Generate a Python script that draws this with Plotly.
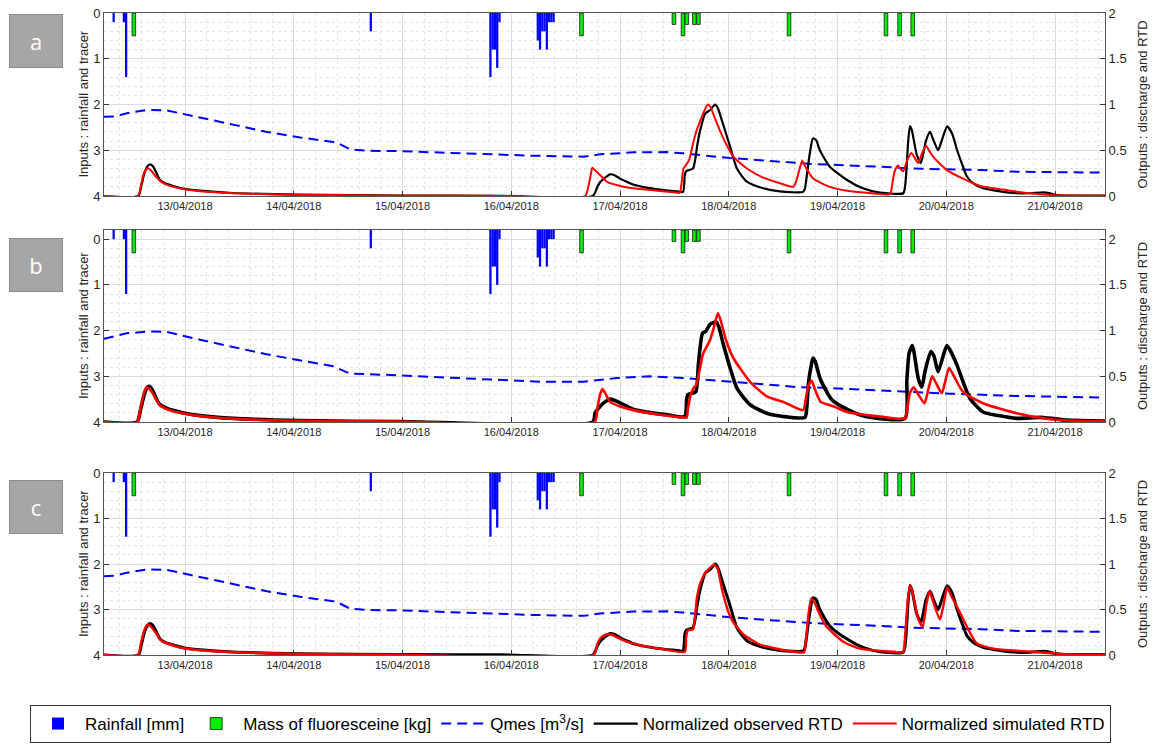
import pandas as pd
import plotly.graph_objects as go

# ---------------- DATA (time in hours from 13/04/2018 00:00) ----------------
T0 = pd.Timestamp("2018-04-13 00:00")

rain_h = [-15.75, -13.5, -13.0, 41.0, 67.4, 67.9, 68.4, 68.9, 69.4,
          77.85, 78.35, 78.85, 79.35, 79.85, 80.35, 80.85, 81.35]
rain_mm = [0.2, 0.2, 1.4, 0.4, 1.4, 0.8, 0.8, 1.2, 0.2,
           0.6, 0.8, 0.4, 0.4, 0.8, 0.2, 0.2, 0.2]

tracer_h = [-11.3, 87.5, 107.9, 109.9, 110.75, 112.4, 113.3, 133.3, 154.7, 157.7, 160.6]
tracer_kg = [0.5, 0.5, 0.25, 0.5, 0.25, 0.25, 0.25, 0.5, 0.5, 0.5, 0.5]

# discharge (panels a and c)
q_h = [-17.9, -15.5, -12.8, -10.0, -8.4, -4.0, -0.4, 3.3, 10.6, 18.1, 25.4, 32.7, 34.0,
       36.4, 40.0, 47.5, 62.3, 76.8, 87.9, 91.6, 98.9, 106.4, 109.9, 120.3, 131.3,
       138.6, 153.4, 160.7, 175.5, 183.7, 203.0]
q_ac = [0.865, 0.87, 0.905, 0.93, 0.94, 0.935, 0.895, 0.855, 0.78, 0.70, 0.64, 0.59, 0.57,
        0.51, 0.495, 0.49, 0.465, 0.44, 0.43, 0.455, 0.477, 0.48, 0.466, 0.415, 0.375,
        0.35, 0.32, 0.30, 0.284, 0.265, 0.255]
# discharge (panel b)
qb_h = [-17.9, -12.9, -7.7, -4.0, 3.3, 18.0, 32.7, 36.4, 47.4, 62.2, 78.3, 87.8, 95.3,
        102.6, 109.9, 120.9, 126.2, 135.7, 139.4, 154.1, 168.8, 183.5, 202.6]
q_b = [0.91, 0.97, 0.99, 0.985, 0.90, 0.74, 0.61, 0.53, 0.51, 0.48, 0.44, 0.44, 0.48,
       0.50, 0.48, 0.44, 0.42, 0.38, 0.377, 0.34, 0.31, 0.285, 0.267]

# normalized observed RTD (panels a and c)
obs_h = [-17.9, -10.3, -9.6, -8.9, -8.2, -7.7, -7.0, -6.4, -5.5, -4.4, -0.4, 3.3, 10.6, 25.4,
         47.5, 70.0, 90.0,
         91.0, 91.6, 92.7, 93.8, 94.9, 96.0, 97.5, 98.9, 101.5, 104.8, 108.6, 109.9,
         110.3, 110.6, 111.0, 112.1, 112.6, 113.0, 113.7, 114.8, 115.9, 117.0, 117.6, 118.7,
         120.3, 121.8, 124.0, 127.6, 131.3, 136.4,
         136.8, 137.3, 137.9, 138.6, 139.3, 140.1, 142.3, 146.1, 149.6, 153.4, 158.5,
         158.9, 159.3, 159.6, 160.0, 160.4, 161.5, 162.4, 163.5, 164.4, 165.1, 166.2, 167.1,
         168.2, 169.3, 170.4, 171.7, 172.6, 173.9, 176.1, 179.9, 183.6, 186.5, 189.4, 190.9,
         192.4, 203.0]
obs_ac = [0, 0, 0.12, 0.26, 0.33, 0.345, 0.32, 0.26, 0.175, 0.138, 0.08, 0.058, 0.033, 0.015,
          0.005, 0.002, 0.0,
          0.10, 0.15, 0.20, 0.237, 0.225, 0.19, 0.155, 0.125, 0.095, 0.07, 0.05, 0.045,
          0.23, 0.27, 0.28, 0.30, 0.40, 0.54, 0.72, 0.90, 0.94, 1.0, 0.96, 0.79,
          0.54, 0.30, 0.156, 0.084, 0.05, 0.045,
          0.08, 0.25, 0.47, 0.63, 0.61, 0.50, 0.32, 0.175, 0.084, 0.036, 0.03,
          0.10, 0.35, 0.60, 0.765, 0.72, 0.45, 0.36, 0.60, 0.70, 0.62, 0.50, 0.62,
          0.76, 0.68, 0.50, 0.32, 0.21, 0.14, 0.084, 0.05, 0.03, 0.03, 0.04, 0.03,
          0.01, 0.005]

# normalized simulated RTD, panel a
sima_h = [-17.9, -10.4, -9.8, -9.2, -8.6, -8.2, -7.5, -6.8, -6.0, -5.5, -4.4, -0.4, 3.3,
          10.6, 25.4, 47.5, 70.0, 88.3,
          89.0, 89.5, 89.9, 90.7, 91.6, 93.1, 96.0, 98.9, 104.8, 108.6, 109.2,
          109.6, 110.0, 110.6, 111.3, 112.0, 112.8, 113.7, 114.6, 115.4, 116.0, 116.7, 118.0,
          119.5, 121.0, 124.0, 127.6, 131.3, 134.2,
          134.8, 135.5, 136.2, 136.8, 137.5, 138.6, 140.1, 142.3, 146.1, 150.5, 155.6,
          156.0, 156.5, 157.1, 157.4, 158.0, 158.5, 159.3, 160.3, 161.0, 161.8, 162.6, 163.5,
          164.3, 165.1, 168.2, 171.7, 175.5, 179.9, 183.6, 190.9, 203.0]
sim_a = [0, 0, 0.10, 0.23, 0.29, 0.30, 0.28, 0.235, 0.19, 0.165, 0.13, 0.075, 0.052,
         0.03, 0.012, 0.004, 0.001, 0.0,
         0.10, 0.22, 0.31, 0.27, 0.23, 0.156, 0.11, 0.084, 0.055, 0.036, 0.035,
         0.15, 0.30, 0.34, 0.40, 0.55, 0.70, 0.82, 0.93, 1.0, 0.97, 0.88, 0.72,
         0.56, 0.43, 0.30, 0.20, 0.14, 0.10,
         0.15, 0.27, 0.385, 0.33, 0.27, 0.19, 0.15, 0.10, 0.058, 0.036, 0.022,
         0.10, 0.25, 0.32, 0.33, 0.29, 0.27, 0.38, 0.47, 0.42, 0.36, 0.46, 0.55,
         0.49, 0.43, 0.28, 0.19, 0.11, 0.075, 0.047, 0.012, 0.004]

# normalized observed RTD, panel b
obsb_h = [-17.9, -10.6, -9.8, -9.0, -8.3, -7.9, -7.2, -6.4, -5.5, -4.0, -2.0, 0.0, 3.3,
          10.6, 25.4, 47.5, 90.0,
          90.5, 91.6, 92.7, 93.8, 94.9, 96.0, 98.9, 103.0, 106.4, 110.3,
          110.7, 111.0, 112.7, 113.3, 114.2, 114.9, 115.9, 117.2, 117.8, 118.8, 120.3, 121.8,
          124.7, 128.4, 132.0, 136.8,
          137.2, 137.6, 138.2, 138.6, 139.1, 140.2, 142.8, 146.5, 150.2, 158.9,
          159.3, 159.8, 160.5, 160.9, 161.8, 162.6, 163.3, 164.6, 165.3, 166.2, 167.3, 168.1,
          168.8, 170.3, 173.2, 176.1, 179.5, 183.5, 189.4, 194.6, 203.0]
obs_b = [0, 0, 0.14, 0.30, 0.38, 0.39, 0.35, 0.26, 0.19, 0.15, 0.12, 0.095, 0.07,
         0.04, 0.015, 0.005, 0.0,
         0.10, 0.17, 0.22, 0.25, 0.235, 0.21, 0.14, 0.10, 0.08, 0.06,
         0.25, 0.30, 0.33, 0.63, 0.97, 0.99, 1.07, 1.095, 1.04, 0.85, 0.59, 0.37,
         0.19, 0.095, 0.06, 0.05,
         0.15, 0.43, 0.62, 0.70, 0.66, 0.47, 0.24, 0.13, 0.06, 0.04,
         0.45, 0.75, 0.835, 0.76, 0.48, 0.38, 0.55, 0.77, 0.72, 0.55, 0.72, 0.835,
         0.79, 0.63, 0.26, 0.11, 0.07, 0.04, 0.05, 0.02, 0.01]

# normalized simulated RTD, panel b
simb_h = [-17.9, -10.6, -9.8, -9.0, -8.5, -8.0, -7.2, -6.4, -5.5, -4.0, -2.0, 0.0, 3.3,
          10.6, 25.4, 47.5, 90.4,
          91.0, 91.6, 92.1, 92.8, 93.8, 96.0, 98.9, 104.8, 109.9, 110.7,
          111.0, 111.6, 112.2, 112.8, 113.5, 114.3, 115.9, 116.8, 117.6, 118.1, 119.5, 121.0,
          124.7, 128.4, 132.0, 136.4,
          137.0, 137.6, 138.3, 139.0, 140.3, 143.2, 146.1, 153.5, 158.9,
          159.4, 160.0, 160.8, 161.6, 163.2, 164.0, 164.9, 165.7, 167.0, 167.8, 168.6, 169.5,
          171.7, 176.1, 183.5, 190.9, 198.2, 203.0]
sim_b = [0, 0, 0.16, 0.33, 0.38, 0.37, 0.32, 0.25, 0.18, 0.14, 0.11, 0.09, 0.065,
         0.035, 0.012, 0.004, 0.0,
         0.15, 0.30, 0.36, 0.31, 0.22, 0.17, 0.13, 0.08, 0.05, 0.05,
         0.15, 0.30, 0.37, 0.40, 0.55, 0.74, 0.90, 1.05, 1.19, 1.13, 0.88, 0.70,
         0.44, 0.28, 0.22, 0.13,
         0.25, 0.40, 0.45, 0.36, 0.22, 0.17, 0.11, 0.06, 0.04,
         0.15, 0.32, 0.38, 0.32, 0.205, 0.35, 0.50, 0.43, 0.315, 0.45, 0.59, 0.52,
         0.33, 0.205, 0.095, 0.03, 0.01, 0.008]

# normalized simulated RTD, panel c
simc_h = [-17.9, -10.4, -9.7, -9.0, -8.4, -8.0, -7.3, -6.4, -5.5, -4.4, -0.4, 3.3, 10.6,
          25.4, 47.5, 90.2,
          91.0, 91.8, 93.0, 94.0, 95.5, 97.5, 101.5, 104.8, 110.3,
          110.6, 111.0, 112.1, 112.6, 113.0, 113.8, 114.8, 115.9, 116.8, 117.5, 118.6, 120.0,
          121.0, 123.4, 127.1, 134.5, 136.6,
          137.0, 137.6, 138.2, 138.9, 140.3, 141.6, 145.3, 149.0, 156.4, 158.5,
          158.9, 159.5, 160.0, 160.5, 161.8, 162.8, 163.6, 164.3, 165.0, 166.6, 167.4, 168.2,
          169.0, 171.1, 174.7, 178.4, 185.8, 194.0, 203.0]
sim_c = [0, 0, 0.14, 0.27, 0.33, 0.33, 0.30, 0.24, 0.17, 0.135, 0.075, 0.052, 0.03,
         0.012, 0.004, 0.0,
         0.12, 0.19, 0.225, 0.225, 0.19, 0.146, 0.095, 0.07, 0.035,
         0.20, 0.27, 0.28, 0.45, 0.64, 0.80, 0.90, 0.96, 0.99, 0.95, 0.70, 0.46,
         0.36, 0.22, 0.11, 0.035, 0.03,
         0.15, 0.45, 0.62, 0.58, 0.42, 0.31, 0.146, 0.07, 0.035, 0.03,
         0.20, 0.60, 0.765, 0.70, 0.40, 0.31, 0.55, 0.70, 0.60, 0.39, 0.55, 0.74,
         0.66, 0.46, 0.13, 0.07, 0.04, 0.01, 0.004]

panel_letters = ["a", "b", "c"]
left_title = "Inputs : rainfall and tracer"
right_title = "Outputs : discharge and RTD"
date_ticks_fmt = "%d/%m/%Y"

# ---------------- FIGURE ----------------
def tt(hours):
    return [T0 + pd.Timedelta(hours=h) for h in hours]

W, H = 1152, 747
ML, MR, MT, MB = 104, 47, 13, 92
plot_w = W - ML - MR
plot_h = H - MT - MB

def py(px):  # paper y from pixel row
    return (H - MB - px) / plot_h

def px_(x):  # paper x from pixel column
    return (x - ML) / plot_w

panel_px = [(13, 196), (230, 422), (473, 655)]
domains = [[py(b), py(t)] for t, b in panel_px]
left_ranges = [[4, 0], [4, -0.2], [4, 0]]
right_ranges = [[0, 2], [0, 2.1], [0, 2]]
bar_base = [0, -0.2, 0]

panels = [
    dict(qh=q_h, q=q_ac, oh=obs_h, o=obs_ac, sh=sima_h, s=sim_a, ow=2.2, sw=2.0),
    dict(qh=qb_h, q=q_b, oh=obsb_h, o=obs_b, sh=simb_h, s=sim_b, ow=3.6, sw=2.6),
    dict(qh=q_h, q=q_ac, oh=obs_h, o=obs_ac, sh=simc_h, s=sim_c, ow=3.0, sw=2.4),
]

fig = go.Figure()
FONT = "Liberation Sans, Arial, sans-serif"
TXT = "#262626"

for i, p in enumerate(panels):
    xa = "x" if i == 0 else f"x{i+1}"
    yl = "y" if i == 0 else f"y{2*i+1}"
    yr = f"y{2*i+2}"
    show = i == 0
    fig.add_trace(go.Bar(x=tt(rain_h), y=rain_mm, base=bar_base[i], width=1800000,
                         marker=dict(color="#0000ff", line=dict(width=0)),
                         name="Rainfall [mm]", showlegend=show, legendgroup="r",
                         xaxis=xa, yaxis=yl))
    fig.add_trace(go.Bar(x=tt(tracer_h), y=tracer_kg, base=bar_base[i], width=2880000,
                         marker=dict(color="#00ee00", line=dict(width=0.8, color="#1a1a1a")),
                         name="Mass of fluoresceine [kg]", showlegend=show, legendgroup="m",
                         xaxis=xa, yaxis=yl))
    fig.add_trace(go.Scatter(x=tt(p["qh"]), y=p["q"], mode="lines",
                             line=dict(color="#0000ff", width=2, dash="10px,6px"),
                             name="Qmes [m<sup>3</sup>/s]", showlegend=show, legendgroup="q",
                             xaxis=xa, yaxis=yr))
    fig.add_trace(go.Scatter(x=tt(p["oh"]), y=p["o"], mode="lines",
                             line=dict(color="#000000", width=p["ow"], shape="spline", smoothing=0.6),
                             name="Normalized observed RTD", showlegend=show, legendgroup="o",
                             xaxis=xa, yaxis=yr))
    fig.add_trace(go.Scatter(x=tt(p["sh"]), y=p["s"], mode="lines",
                             line=dict(color="#ff0000", width=p["sw"], shape="spline", smoothing=0.6),
                             name="Normalized simulated RTD", showlegend=show, legendgroup="s",
                             xaxis=xa, yaxis=yr))

layout = dict(
    template="none",
    width=W, height=H, margin=dict(l=ML, r=MR, t=MT, b=MB, autoexpand=False),
    plot_bgcolor="white", paper_bgcolor="white", barmode="overlay",
    font=dict(family=FONT, color=TXT, size=12),
    legend=dict(orientation="h", x=px_(30), xanchor="left",
                y=py(724), yanchor="middle",
                bordercolor="#333333", borderwidth=1, bgcolor="white",
                font=dict(size=17, color="#000000", family=FONT), itemwidth=44,
                traceorder="normal"),
)

for i in range(3):
    xk = "xaxis" if i == 0 else f"xaxis{i+1}"
    ylk = "yaxis" if i == 0 else f"yaxis{2*i+1}"
    yrk = f"yaxis{2*i+2}"
    yl_id = "y" if i == 0 else f"y{2*i+1}"
    x_id = "x" if i == 0 else f"x{i+1}"
    layout[xk] = dict(
        type="date", anchor=yl_id, domain=[0, 1], automargin=False,
        range=["2018-04-12 06:07", "2018-04-21 11:02"],
        tick0="2018-04-13", dtick=86400000, tickformat=date_ticks_fmt,
        ticks="inside", ticklen=5, tickcolor="#333333",
        tickfont=dict(size=11, color=TXT),
        showgrid=True, gridcolor="#dcdcdc", gridwidth=1,
        minor=dict(tick0="2018-04-13", dtick=17280000, showgrid=True,
                   gridcolor="#e4e4e4", griddash="dot", ticks=""),
        showline=True, linecolor="#555555", linewidth=1, mirror=True, zeroline=False,
    )
    layout[ylk] = dict(
        domain=domains[i], anchor=x_id, range=left_ranges[i], side="left", automargin=False,
        tickvals=[0, 1, 2, 3, 4], ticks="inside", ticklen=5, tickcolor="#333333",
        tickfont=dict(size=13, color=TXT),
        showgrid=True, gridcolor="#dcdcdc",
        minor=dict(dtick=0.2, tick0=0, showgrid=True, gridcolor="#e4e4e4",
                   griddash="dot", ticks=""),
        showline=True, linecolor="#555555", linewidth=1, zeroline=False,
    )
    layout[yrk] = dict(
        overlaying=yl_id, anchor=x_id, side="right", range=right_ranges[i], automargin=False,
        tickvals=[0, 0.5, 1, 1.5, 2], ticktext=["0", "0.5", "1", "1.5", "2"],
        ticks="inside", ticklen=5, tickcolor="#333333",
        tickfont=dict(size=13, color=TXT), showgrid=False, zeroline=False,
        showline=True, linecolor="#555555", linewidth=1,
    )

letter_y = [41, 265, 506.5]
annotations = []
for i, L in enumerate(panel_letters):
    t, b = panel_px[i]
    annotations.append(dict(
        text=L, xref="paper", yref="paper",
        x=px_(36), y=py(letter_y[i]),
        xanchor="center", yanchor="middle", showarrow=False,
        font=dict(size=22, color="white", family="Open Sans, sans-serif"),
        bgcolor="#a6a6a6", bordercolor="#8c8c8c", borderwidth=1, borderpad=0,
        width=52, height=52,
    ))
    annotations.append(dict(
        text=left_title, xref="paper", yref="paper", x=px_(83), y=py((t + b) / 2),
        xanchor="center", yanchor="middle", textangle=-90, showarrow=False,
        font=dict(size=13, color=TXT, family=FONT),
    ))
    annotations.append(dict(
        text=right_title, xref="paper", yref="paper", x=px_(1142), y=py((t + b) / 2),
        xanchor="center", yanchor="middle", textangle=-90, showarrow=False,
        font=dict(size=13, color=TXT, family=FONT),
    ))
layout["annotations"] = annotations

fig.update_layout(**layout)
fig.write_html("out.html", config={"displayModeBar": False},
               post_script="document.body.style.margin='0';document.body.style.overflow='hidden';")
